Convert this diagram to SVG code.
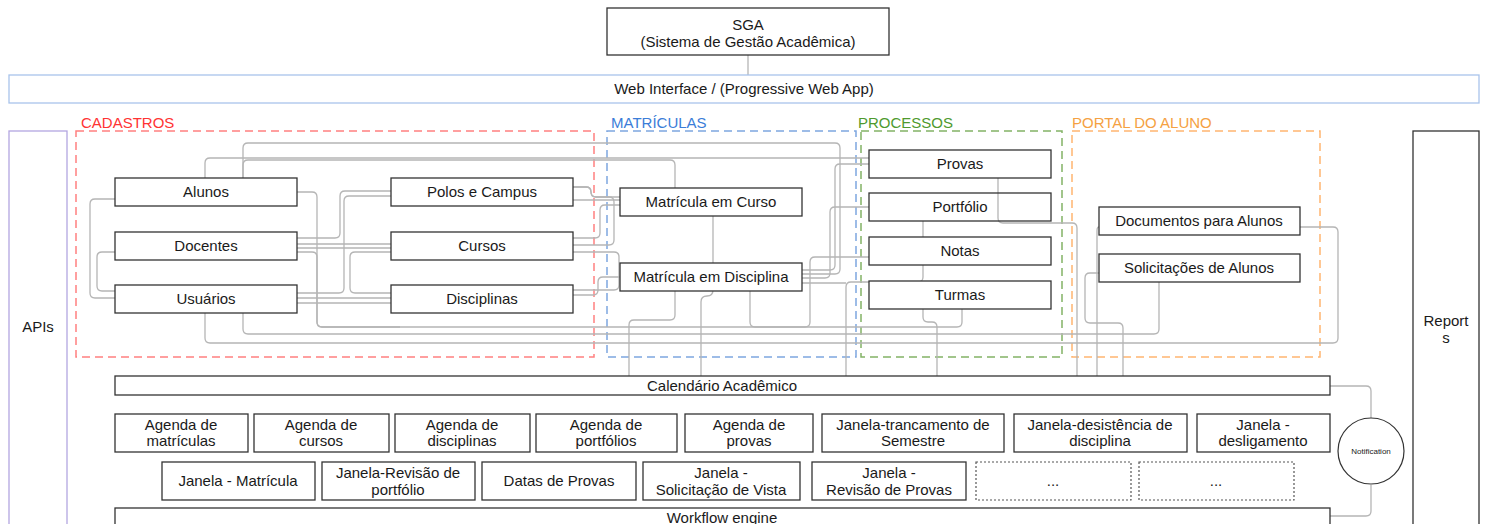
<svg xmlns="http://www.w3.org/2000/svg" width="1487" height="524" viewBox="0 0 1487 524">
<style>
text{font-family:"Liberation Sans",Arial,sans-serif;font-size:15px;fill:#1a1a1a;text-anchor:middle}
.n{fill:#fff;stroke:#333;stroke-width:1.3}
.grp{fill:none;stroke-width:1.5;stroke-dasharray:8 5}
.lbl{text-anchor:start}
.c{fill:none;stroke:#b5b5b5;stroke-width:1.3}
.dot{fill:#fff;stroke:#555;stroke-width:1.2;stroke-dasharray:2 2}
</style>
<rect width="1487" height="524" fill="#fff"/>

<!-- group frames -->
<g id="frames">
  <rect class="grp" x="76" y="131" width="518" height="226" stroke="#ff8080"/>
  <text class="lbl" x="81" y="128" style="fill:#ff3333">CADASTROS</text>
  <rect class="grp" x="607" y="131" width="249" height="226" stroke="#7ea6e0"/>
  <text class="lbl" x="611" y="128" style="fill:#3b7dd8">MATRÍCULAS</text>
  <rect class="grp" x="861" y="131" width="201" height="226" stroke="#82b366"/>
  <text class="lbl" x="858" y="128" style="fill:#4e9a2e">PROCESSOS</text>
  <rect class="grp" x="1072" y="131" width="248" height="226" stroke="#ffb570"/>
  <text class="lbl" x="1072" y="128" style="fill:#f5a142">PORTAL DO ALUNO</text>
</g>

<!-- connectors -->
<g id="connectors">
  <path class="c" d="M748,55 V75"/>
  <path class="c" d="M115,199 H95 Q90,199 90,204 V293 Q90,298 95,298 H115"/>
  <path class="c" d="M115,252 H102 Q97,252 97,257 V286 Q97,291 102,291 H115"/>
  <path class="c" d="M296,192 H312 Q317,192 317,197 V322 Q317,327 322,327 H957 Q962,327 962,322 V309"/>
  <path class="c" d="M296,252 H312 Q317,252 317,257 V322 Q317,327 322,327 H400"/>
  <path class="c" d="M243,178 V148 Q243,143 248,143 H835 Q840,143 840,148 V269 Q840,274 835,274 H802"/>
  <path class="c" d="M243,178 V165 Q243,160 248,160 H670 Q675,160 675,165 V188"/>
  <path class="c" d="M205,178 V163 Q205,158 210,158 H869"/>
  <path class="c" d="M243,313 V329 Q243,334 248,334 H1154 Q1159,334 1159,329 V282"/>
  <path class="c" d="M205,313 V338 Q205,343 210,343 H1333 Q1338,343 1338,338 V232 Q1338,227 1333,227 H1300"/>
  <path class="c" d="M296,238 H335 Q340,238 340,233 V196 Q340,191 345,191 H391"/>
  <path class="c" d="M296,293 H339 Q344,293 344,288 V201 Q344,196 349,196 H391"/>
  <path class="c" d="M296,244 H391"/>
  <path class="c" d="M296,248 H391"/>
  <path class="c" d="M391,252 H355 Q350,252 350,257 V288 Q350,293 355,293 H391"/>
  <path class="c" d="M296,298 H391"/>
  <path class="c" d="M296,303 H391"/>
  <path class="c" d="M573,187 H586 Q591,187 591,192 Q591,197 596,197 H620"/>
  <path class="c" d="M573,187 H586 Q591,187 591,192 Q591,197 596,197 H609 Q614,197 614,202 V240 Q614,245 609,245 H573"/>
  <path class="c" d="M573,200 H620"/>
  <path class="c" d="M573,238 H595 Q600,238 600,233 V210 Q600,205 605,205 H620"/>
  <path class="c" d="M573,252 H614 Q619,252 619,257 V285 Q619,290 614,290 H573"/>
  <path class="c" d="M573,295 H593 Q598,295 598,290 V282 Q598,277 603,277 H620"/>
  <path class="c" d="M713,216 V290 Q713,296 707,296 Q701,296 701,302 V376"/>
  <path class="c" d="M675,291 V315 Q675,320 670,320 H634 Q629,320 629,325 V376"/>
  <path class="c" d="M750,291 V322 Q750,327 755,327 H805 Q810,327 810,322 V262 Q810,257 815,257 H869"/>
  <path class="c" d="M869,164 H840 Q835,164 835,169 V265 Q835,270 830,270 H802"/>
  <path class="c" d="M869,207 H835 Q830,207 830,212 V273 Q830,278 825,278 H802"/>
  <path class="c" d="M923,221 V277 Q923,282 918,282 H851 Q846,282 846,287 V376"/>
  <path class="c" d="M802,283 H846"/>
  <path class="c" d="M923,309 V317 Q923,322 928,322 H932 Q937,322 937,327 V376"/>
  <path class="c" d="M998,178 V218 Q998,223 1003,223 H1072 Q1077,223 1077,228 V376"/>
  <path class="c" d="M1099,273 H1090 Q1085,273 1085,278 V318 Q1085,323 1090,323 H1118 Q1123,323 1123,328 V376"/>
  <path class="c" d="M1099,227 Q1097,227 1097,231 V376"/>
  <path class="c" d="M1330,386 H1366 Q1371,386 1371,391 V418"/>
  <path class="c" d="M1371,485 V511 Q1371,516 1366,516 H1330"/>
</g>

<g id="sga"><rect class="n" x="607" y="8" width="282" height="47"/><text x="748" y="30">SGA</text><text x="748" y="47">(Sistema de Gestão Acadêmica)</text></g>
<g id="web"><rect x="9" y="75" width="1470" height="28" fill="#fff" stroke="#a9c4eb" stroke-width="1.3"/><text x="744" y="94">Web Interface / (Progressive Web App)</text></g>
<g id="apis"><rect x="9" y="131" width="58" height="400" fill="#fff" stroke="#b3a6e0" stroke-width="1.3"/><text x="38" y="332">APIs</text></g>
<g id="reports"><rect class="n" x="1413" y="131" width="66" height="400"/><text x="1446" y="326">Report</text><text x="1446" y="343">s</text></g>

<g id="alunos"><rect class="n" x="115" y="178" width="182" height="28"/><text x="206" y="197">Alunos</text></g>
<g id="docentes"><rect class="n" x="115" y="232" width="182" height="28"/><text x="206" y="251">Docentes</text></g>
<g id="usuarios"><rect class="n" x="115" y="285" width="182" height="28"/><text x="206" y="304">Usuários</text></g>
<g id="polos"><rect class="n" x="391" y="178" width="182" height="28"/><text x="482" y="197">Polos e Campus</text></g>
<g id="cursos"><rect class="n" x="391" y="232" width="182" height="28"/><text x="482" y="251">Cursos</text></g>
<g id="disciplinas"><rect class="n" x="391" y="285" width="182" height="28"/><text x="482" y="304">Disciplinas</text></g>
<g id="mat-curso"><rect class="n" x="620" y="188" width="182" height="28"/><text x="711" y="207">Matrícula em Curso</text></g>
<g id="mat-disc"><rect class="n" x="620" y="263" width="182" height="28"/><text x="711" y="282">Matrícula em Disciplina</text></g>
<g id="provas"><rect class="n" x="869" y="150" width="182" height="28"/><text x="960" y="169">Provas</text></g>
<g id="portfolio"><rect class="n" x="869" y="193" width="182" height="28" style="fill:none"/><text x="960" y="212">Portfólio</text></g>
<g id="notas"><rect class="n" x="869" y="237" width="182" height="28"/><text x="960" y="256">Notas</text></g>
<g id="turmas"><rect class="n" x="869" y="281" width="182" height="28"/><text x="960" y="300">Turmas</text></g>
<g id="documentos"><rect class="n" x="1099" y="207" width="201" height="28"/><text x="1199" y="226">Documentos para Alunos</text></g>
<g id="solicitacoes"><rect class="n" x="1099" y="254" width="201" height="28"/><text x="1199" y="273">Solicitações de Alunos</text></g>

<g id="calendario"><rect class="n" x="115" y="376" width="1215" height="19"/><text x="722" y="391">Calendário Acadêmico</text></g>

<g id="ag-matriculas"><rect class="n" x="115" y="414" width="133" height="38"/><text x="181" y="430">Agenda de</text><text x="181" y="446">matrículas</text></g>
<g id="ag-cursos"><rect class="n" x="254" y="414" width="135" height="38"/><text x="321" y="430">Agenda de</text><text x="321" y="446">cursos</text></g>
<g id="ag-disciplinas"><rect class="n" x="395" y="414" width="135" height="38"/><text x="462" y="430">Agenda de</text><text x="462" y="446">disciplinas</text></g>
<g id="ag-portfolios"><rect class="n" x="536" y="414" width="141" height="38"/><text x="606" y="430">Agenda de</text><text x="606" y="446">portfólios</text></g>
<g id="ag-provas"><rect class="n" x="685" y="414" width="128" height="38"/><text x="749" y="430">Agenda de</text><text x="749" y="446">provas</text></g>
<g id="jan-trancamento"><rect class="n" x="822" y="414" width="182" height="38"/><text x="913" y="430">Janela-trancamento de</text><text x="913" y="446">Semestre</text></g>
<g id="jan-desistencia"><rect class="n" x="1014" y="414" width="173" height="38"/><text x="1100" y="430">Janela-desistência de</text><text x="1100" y="446">disciplina</text></g>
<g id="jan-desligamento"><rect class="n" x="1197" y="414" width="133" height="38"/><text x="1263" y="430">Janela -</text><text x="1263" y="446">desligamento</text></g>

<g id="jan-matricula"><rect class="n" x="162" y="462" width="153" height="38"/><text x="238" y="486">Janela - Matrícula</text></g>
<g id="jan-rev-portfolio"><rect class="n" x="322" y="462" width="153" height="38"/><text x="398" y="478">Janela-Revisão de</text><text x="398" y="495">portfólio</text></g>
<g id="datas-provas"><rect class="n" x="482" y="462" width="154" height="38"/><text x="559" y="486">Datas de Provas</text></g>
<g id="jan-vista"><rect class="n" x="643" y="462" width="157" height="38"/><text x="721" y="478">Janela -</text><text x="721" y="495">Solicitação de Vista</text></g>
<g id="jan-rev-provas"><rect class="n" x="812" y="462" width="154" height="38"/><text x="889" y="478">Janela -</text><text x="889" y="495">Revisão de Provas</text></g>
<g id="etc1"><rect class="dot" x="976" y="462" width="155" height="38"/><text x="1053" y="486">...</text></g>
<g id="etc2"><rect class="dot" x="1139" y="462" width="155" height="38"/><text x="1216" y="486">...</text></g>

<g id="notification"><circle cx="1371" cy="451" r="33" fill="#fff" stroke="#333" stroke-width="1.2"/><text x="1371" y="454" style="font-size:8px">Notification</text></g>
<g id="workflow"><rect class="n" x="115" y="508" width="1215" height="30"/><text x="722" y="523">Workflow engine</text></g>
</svg>
